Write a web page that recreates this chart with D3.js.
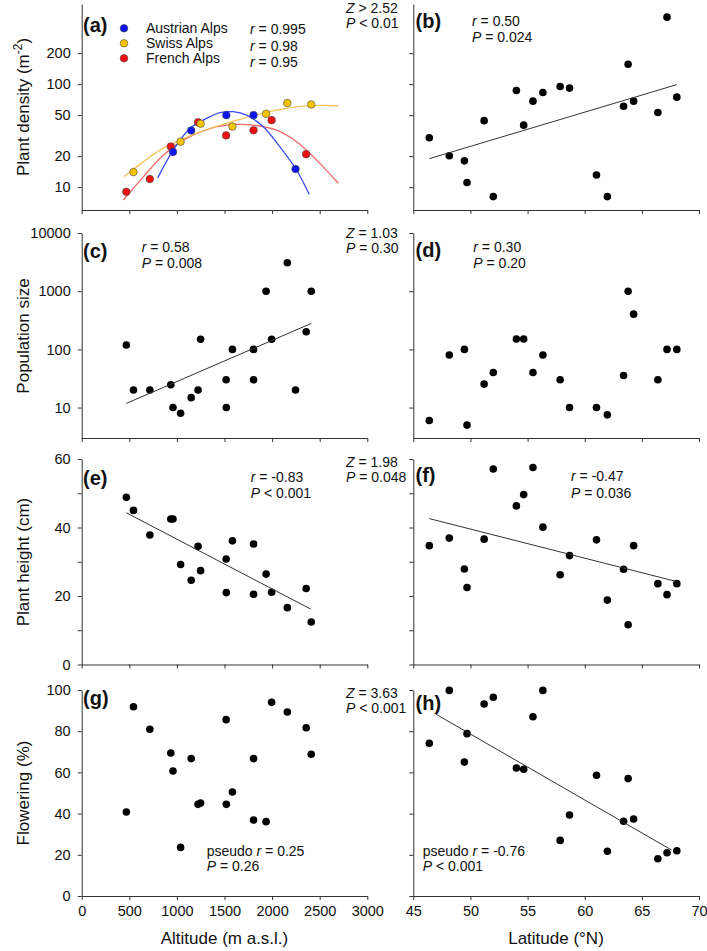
<!DOCTYPE html>
<html>
<head>
<meta charset="utf-8">
<script src="https://cdn.jsdelivr.net/npm/d3@7"></script>
<style>
  body { margin: 0; background: #fff; }
  text { font-family: "Liberation Sans", Arial, sans-serif; fill: #111; }
</style>
</head>
<body>
<svg id="fig" width="707" height="951"></svg>
<script>
// 20 alpine populations, ordered by altitude (A = Austrian, S = Swiss, F = French Alps)
var altitude   = [469, 544, 716, 936, 959, 1039, 1150, 1222, 1249, 1517, 1519, 1583, 1805, 1805, 1937, 1995, 2160, 2246, 2358, 2411];
var region     = ['F','S','F','F','A','S','A','F','S','F','A','S','F','A','S','F','S','A','F','S'];
var densityAlt = [9, 14, 12, 24.8, 22, 27.6, 35.5, 42.7, 41.3, 31.8, 50, 38.8, 35.7, 50, 51.6, 44.7, 65.5, 15, 20.9, 63.5];
var popSizeAlt = [119, 20, 20, 24.7, 10, 8, 14.8, 20, 149, 30, 10, 100, 100, 30, 1000, 149, 3080, 20, 201, 1000];
var heightAlt  = [48.8, 45.0, 37.8, 42.5, 42.5, 29.2, 24.6, 34.5, 27.4, 30.8, 21.0, 36.1, 35.2, 20.5, 26.4, 21.1, 16.6, null, 22.2, 12.4];
var flowerAlt  = [40.8, 91.9, 80.9, 69.4, 60.7, 23.6, 66.7, 44.5, 45.1, 85.6, 44.5, 50.5, 66.7, 36.9, 36.1, 94.0, 89.3, null, 81.7, 68.8];

// 20 populations along the latitudinal gradient
var latitude   = [46.4, 48.15, 49.47, 49.7, 51.2, 52.0, 54.02, 54.66, 55.47, 56.34, 57.85, 58.67, 61.03, 61.98, 63.4, 63.8, 64.28, 66.4, 67.2, 68.06];
var densityLat = [30.2, 20.2, 18.0, 11.1, 44.2, 8.1, 86.9, 40, 68.4, 83, 95, 91.5, 13.1, 8.1, 61, 156, 68.4, 53, 447, 74.8];
var popSizeLat = [6.0, 80, 100, 5.0, 25.3, 40, 151, 151, 40, 80, 30, 10, 10, 7.5, 35.6, 1000, 403, 30, 100, 100];
var heightLat  = [34.7, 36.9, 27.9, 22.5, 36.6, 57.1, 46.3, 49.6, 57.5, 40.1, 26.2, 31.8, 36.4, 18.8, 27.8, 11.6, 34.7, 23.6, 20.4, 23.6];
var flowerLat  = [74.1, 99.8, 65.0, 78.8, 93.2, 96.5, 62.1, 61.5, 87.0, 99.8, 27.0, 39.3, 58.6, 21.7, 36.3, 57.0, 37.4, 18.1, 21.0, 22.0];

// fitted curves in panel (a)
var fitAltA  = [798, 962, 1137, 1347, 1452, 1592, 1733, 1907, 2082, 2258, 2390];
var fitDensA = [12.3, 22.9, 37.1, 48.3, 52.8, 54.0, 50.0, 38.5, 24.6, 14.6, 8.5];
var fitAltS  = [444, 647, 822, 1032, 1347, 1697, 1977, 2258, 2537, 2699];
var fitDensS = [12.6, 17.6, 22.9, 28.6, 37.1, 46.6, 54.2, 60.3, 62.2, 61.7];
var fitAltF  = [437, 647, 857, 1067, 1347, 1628, 1802, 2048, 2258, 2468, 2695];
var fitDensF = [7.5, 12.6, 20.4, 28.6, 37.1, 40.6, 40.0, 35.8, 27.6, 18.3, 10.9];

// regression lines (end points)
var lineB = {x: [46.4, 68.06], y: [18.9, 99]};
var lineC = {x: [469, 2411],   y: [11.8, 279]};
var lineE = {x: [469, 2404],   y: [44.3, 16.2]};
var lineF = {x: [46.4, 68.06], y: [42.6, 24.2]};
var lineH = {x: [47.0, 67.6],  y: [88.2, 22.3]};

var altTicks = d3.range(0, 3001, 500);
var latTicks = d3.range(45, 71, 5);

var regionColor = {A: '#0a14f0', S: '#f7c400', F: '#f01010'};
var curveColor  = {A: '#3b4cf5', S: '#f4c45a', F: '#f06a6a'};

var svg = d3.select('#fig');

var xAlt = d3.scaleLinear().domain([0, 3000]).range([81.7, 367.3]);
var xLat = d3.scaleLinear().domain([45, 70]).range([413.3, 699]);

var rows = [
  {y: d3.scaleLog().domain([6, 600]).range([210, 4]),       ticks: [10, 20, 50, 100, 200], lab: function(d) { return d; }},
  {y: d3.scaleLog().domain([3, 10000]).range([438, 233]),   ticks: [10, 100, 1000, 10000], lab: function(d) { return d; }},
  {y: d3.scaleLinear().domain([0, 60]).range([664.5, 459]), ticks: d3.range(0, 61, 10),    lab: function(d) { return d % 20 ? '' : d; }},
  {y: d3.scaleLinear().domain([0, 100]).range([896, 690]),  ticks: d3.range(0, 101, 20),   lab: function(d) { return d; }}
];

function axes(x, xTicks, row, leftCol, bottom) {
  var y = row.y;
  var g = svg.append('g');
  var xa = d3.axisBottom(x).tickValues(xTicks).tickSize(4).tickSizeOuter(0).tickPadding(6)
    .tickFormat(bottom ? function(d) { return d; } : function() { return ''; });
  g.append('g').attr('transform', 'translate(0,' + y.range()[0] + ')').call(xa);
  var ya = d3.axisLeft(y).tickValues(row.ticks).tickSize(4).tickSizeOuter(0).tickPadding(7)
    .tickFormat(leftCol ? row.lab : function() { return ''; });
  g.append('g').attr('transform', 'translate(' + x.range()[0] + ',0)').call(ya);
  g.selectAll('.domain').attr('stroke', '#333');
  g.selectAll('.tick line').attr('stroke', '#333');
  g.selectAll('.tick text').attr('font-size', 14.5).attr('fill', '#111')
    .style('font-family', '"Liberation Sans", Arial, sans-serif');
}

function dots(x, y, xs, ys) {
  var pts = xs.map(function(v, i) { return [v, ys[i]]; }).filter(function(p) { return p[1] != null; });
  svg.append('g').selectAll('circle').data(pts).join('circle')
    .attr('cx', function(d) { return x(d[0]); })
    .attr('cy', function(d) { return y(d[1]); })
    .attr('r', 3.8).attr('fill', '#000');
}

function fitLine(x, y, ln) {
  svg.append('path')
    .datum(ln.x.map(function(v, i) { return [v, ln.y[i]]; }))
    .attr('d', d3.line().x(function(d) { return x(d[0]); }).y(function(d) { return y(d[1]); }))
    .attr('fill', 'none').attr('stroke', '#333').attr('stroke-width', 1);
}

// text with italic parts: parts = [[text, italic], ...]
function note(x, y, parts, size) {
  var t = svg.append('text').attr('x', x).attr('y', y).attr('font-size', size || 14);
  parts.forEach(function(p) {
    t.append('tspan').text(p[0]).attr('font-style', p[1] ? 'italic' : null);
  });
  return t;
}

function panelLabel(x, y, s) {
  svg.append('text').attr('x', x).attr('y', y).attr('font-size', 20).attr('font-weight', 'bold').text(s);
}

// axes
rows.forEach(function(row, i) {
  axes(xAlt, altTicks, row, true, i === 3);
  axes(xLat, latTicks, row, false, i === 3);
});

// (a) density vs altitude, three Alpine regions
var ya = rows[0].y;
[['F', fitAltF, fitDensF], ['S', fitAltS, fitDensS], ['A', fitAltA, fitDensA]].forEach(function(c) {
  svg.append('path')
    .datum(c[1].map(function(v, i) { return [v, c[2][i]]; }))
    .attr('d', d3.line().curve(d3.curveCatmullRom)
      .x(function(d) { return xAlt(d[0]); }).y(function(d) { return ya(d[1]); }))
    .attr('fill', 'none').attr('stroke', curveColor[c[0]]).attr('stroke-width', 1.3);
});
['F', 'S', 'A'].forEach(function(r) {
  var idx = d3.range(altitude.length).filter(function(i) { return region[i] === r; });
  svg.append('g').selectAll('circle').data(idx).join('circle')
    .attr('cx', function(i) { return xAlt(altitude[i]); })
    .attr('cy', function(i) { return ya(densityAlt[i]); })
    .attr('r', 3.8).attr('fill', regionColor[r]).attr('stroke', '#444').attr('stroke-width', 0.6);
});

var legend = [['A', 'Austrian Alps', '0.995'], ['S', 'Swiss Alps', '0.98'], ['F', 'French Alps', '0.95']];
legend.forEach(function(l, i) {
  svg.append('circle').attr('cx', 124).attr('cy', 28.3 + i * 15).attr('r', 3.8)
    .attr('fill', regionColor[l[0]]).attr('stroke', '#444').attr('stroke-width', 0.6);
  note(146, 33.3 + i * 15, [[l[1], false]]);
  note(250, 34.3 + i * 16.2, [['r', true], [' = ' + l[2], false]]);
});
panelLabel(83, 32, '(a)');

// (b)
dots(xLat, rows[0].y, latitude, densityLat);
fitLine(xLat, rows[0].y, lineB);
panelLabel(415.5, 28, '(b)');
note(472, 25.7, [['r', true], [' = 0.50', false]]);
note(472, 41.7, [['P', true], [' = 0.024', false]]);

// (c)
dots(xAlt, rows[1].y, altitude, popSizeAlt);
fitLine(xAlt, rows[1].y, lineC);
panelLabel(83, 257.5, '(c)');
note(141.7, 252.3, [['r', true], [' = 0.58', false]]);
note(141.7, 268.3, [['P', true], [' = 0.008', false]]);

// (d)
dots(xLat, rows[1].y, latitude, popSizeLat);
panelLabel(415.5, 257, '(d)');
note(473.3, 252.3, [['r', true], [' = 0.30', false]]);
note(473.3, 268.3, [['P', true], [' = 0.20', false]]);

// (e)
dots(xAlt, rows[2].y, altitude, heightAlt);
fitLine(xAlt, rows[2].y, lineE);
panelLabel(83, 485, '(e)');
note(250.7, 481.7, [['r', true], [' = -0.83', false]]);
note(250.7, 497.7, [['P', true], [' < 0.001', false]]);

// (f)
dots(xLat, rows[2].y, latitude, heightLat);
fitLine(xLat, rows[2].y, lineF);
panelLabel(415.5, 482, '(f)');
note(571, 481.3, [['r', true], [' = -0.47', false]]);
note(571, 497.7, [['P', true], [' = 0.036', false]]);

// (g)
dots(xAlt, rows[3].y, altitude, flowerAlt);
panelLabel(83, 705, '(g)');
note(206.7, 856, [['pseudo ', false], ['r', true], [' = 0.25', false]]);
note(206.7, 871, [['P', true], [' = 0.26', false]]);

// (h)
dots(xLat, rows[3].y, latitude, flowerLat);
fitLine(xLat, rows[3].y, lineH);
panelLabel(415.5, 710, '(h)');
note(422.7, 856, [['pseudo ', false], ['r', true], [' = -0.76', false]]);
note(422.7, 871, [['P', true], [' < 0.001', false]]);

// Z tests comparing the two gradients
var zTests = [['Z', ' > 2.52', ' < 0.01', 13], ['Z', ' = 1.03', ' = 0.30', 238],
              ['Z', ' = 1.98', ' = 0.048', 467], ['Z', ' = 3.63', ' < 0.001', 697.5]];
zTests.forEach(function(z) {
  note(346, z[3], [['Z', true], [z[1], false]]);
  note(346, z[3] + 15, [['P', true], [z[2], false]]);
});

// axis titles
function yTitle(cy, parts) {
  var t = svg.append('text').attr('transform', 'translate(29,' + cy + ') rotate(-90)')
    .attr('text-anchor', 'middle').attr('font-size', 17);
  parts.forEach(function(p) {
    var s = t.append('tspan').text(p[0]);
    if (p[1]) s.attr('font-size', 12).attr('baseline-shift', '60%');
  });
}
yTitle(107, [['Plant density (m', false], ['-2', true], [')', false]]);
yTitle(336, [['Population size', false]]);
yTitle(562, [['Plant height (cm)', false]]);
yTitle(793, [['Flowering (%)', false]]);

svg.append('text').attr('x', 224.5).attr('y', 944).attr('text-anchor', 'middle')
  .attr('font-size', 17).text('Altitude (m a.s.l.)');
svg.append('text').attr('x', 556).attr('y', 944).attr('text-anchor', 'middle')
  .attr('font-size', 17).text('Latitude (°N)');
</script>
</body>
</html>
